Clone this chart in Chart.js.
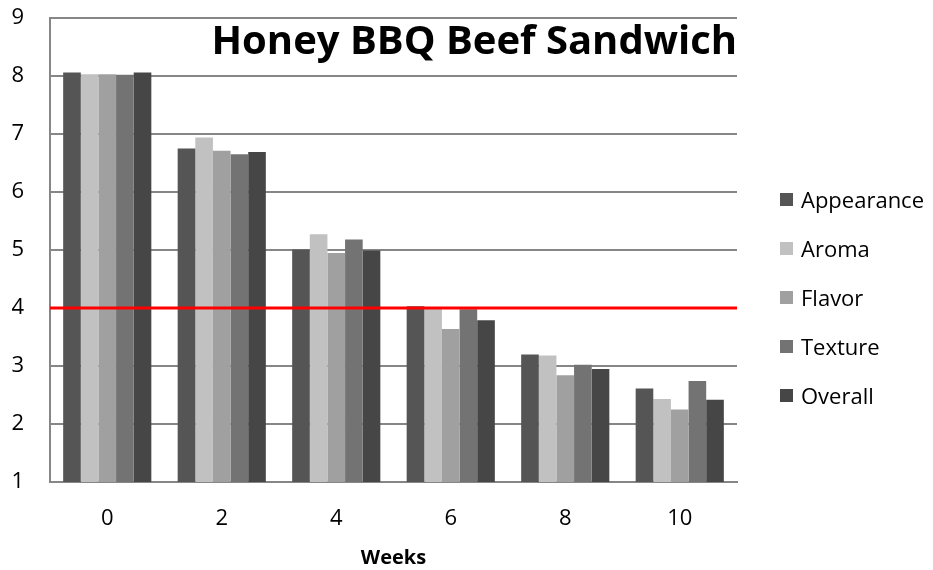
<!DOCTYPE html>
<html>
<head>
<meta charset="utf-8">
<script src="https://cdn.jsdelivr.net/npm/chart.js@4"></script>
<style>
  html, body { margin: 0; padding: 0; background: #fff; }
  #wrap { width: 933px; height: 570px; position: relative; }
  #legend {
    position: absolute; left: 780px; top: 175px;
    margin: 0; padding: 0; list-style: none;
    font-family: "Open Sans", sans-serif; font-size: 22px; color: #000;
  }
  #legend li { height: 49px; line-height: 49px; display: flex; align-items: center; white-space: nowrap; }
  #legend .sw { width: 13px; height: 13px; margin-right: 8px; flex: none; }
</style>
</head>
<body>
<div id="wrap">
  <canvas id="c" width="933" height="570"></canvas>
  <ul id="legend"></ul>
</div>
<script>
// Sensory scores over storage time
const weeks = ['0', '2', '4', '6', '8', '10'];
const appearance = [8.06, 6.75, 5.01, 4.03, 3.20, 2.61];
const aroma      = [8.03, 6.94, 5.27, 4.00, 3.18, 2.43];
const flavor     = [8.03, 6.71, 4.95, 3.64, 2.84, 2.25];
const texture    = [8.02, 6.65, 5.18, 3.98, 3.02, 2.74];
const overall    = [8.06, 6.69, 4.99, 3.79, 2.95, 2.42];
const yTicks = [1, 2, 3, 4, 5, 6, 7, 8, 9];
const acceptLimit = 4;
const chartTitle = 'Honey BBQ Beef Sandwich';

const FONT = '"Open Sans", sans-serif';

// Horizontal acceptability limit line, drawn over the bars
const limitLine = {
  id: 'limitLine',
  afterDatasetsDraw(chart) {
    const { ctx, chartArea, scales } = chart;
    const y = scales.y.getPixelForValue(acceptLimit);
    ctx.save();
    ctx.strokeStyle = '#ff0000';
    ctx.lineWidth = 3;
    ctx.beginPath();
    ctx.moveTo(chartArea.left, y);
    ctx.lineTo(chartArea.right, y);
    ctx.stroke();
    ctx.restore();
  }
};

// Title placed inside the plot, right-aligned
const innerTitle = {
  id: 'innerTitle',
  afterDraw(chart) {
    const { ctx, chartArea } = chart;
    ctx.save();
    ctx.font = 'bold 40px ' + FONT;
    ctx.fillStyle = '#000';
    ctx.textAlign = 'right';
    ctx.textBaseline = 'alphabetic';
    ctx.fillText(chartTitle, chartArea.right, 54);
    ctx.restore();
  }
};

// Vertical legend list built from the datasets
const htmlLegend = {
  id: 'htmlLegend',
  afterUpdate(chart) {
    const ul = document.getElementById('legend');
    ul.innerHTML = '';
    chart.data.datasets.forEach(ds => {
      const li = document.createElement('li');
      const sw = document.createElement('span');
      sw.className = 'sw';
      sw.style.background = ds.backgroundColor;
      li.appendChild(sw);
      li.appendChild(document.createTextNode(ds.label));
      ul.appendChild(li);
    });
  }
};

new Chart(document.getElementById('c'), {
  type: 'bar',
  data: {
    labels: weeks,
    datasets: [
      { label: 'Appearance', data: appearance, backgroundColor: '#555555' },
      { label: 'Aroma',      data: aroma,      backgroundColor: '#c1c1c1' },
      { label: 'Flavor',     data: flavor,     backgroundColor: '#a0a0a0' },
      { label: 'Texture',    data: texture,    backgroundColor: '#737373' },
      { label: 'Overall',    data: overall,    backgroundColor: '#464646' }
    ]
  },
  options: {
    responsive: false,
    animation: false,
    devicePixelRatio: 1,
    layout: { padding: { top: 0, right: 196, left: 0, bottom: 0 } },
    datasets: { bar: { barPercentage: 1, categoryPercentage: 0.77, borderWidth: 0 } },
    scales: {
      x: {
        grid: { display: false, drawTicks: false },
        border: { color: '#868686', width: 2 },
        ticks: { color: '#000', font: { family: FONT, size: 22 }, padding: 24, maxRotation: 0, minRotation: 0 },
        title: { display: true, text: 'Weeks', color: '#000', font: { family: FONT, size: 20, weight: 'bold' }, padding: { top: 15, bottom: 0 } },
        afterFit(scale) { scale.height = 88; }
      },
      y: {
        min: 1, max: 9,
        afterBuildTicks(axis) { axis.ticks = yTicks.map(v => ({ value: v })); },
        grid: { color: '#868686', lineWidth: 2, drawTicks: false },
        border: { color: '#868686', width: 2 },
        ticks: { color: '#000', font: { family: FONT, size: 22 }, padding: 26 },
        afterFit(scale) { scale.width = 50; scale.paddingTop = 18; }
      }
    },
    plugins: {
      legend: { display: false },
      tooltip: { enabled: false },
      title: { display: false }
    }
  },
  plugins: [limitLine, innerTitle, htmlLegend]
});
</script>
</body>
</html>
